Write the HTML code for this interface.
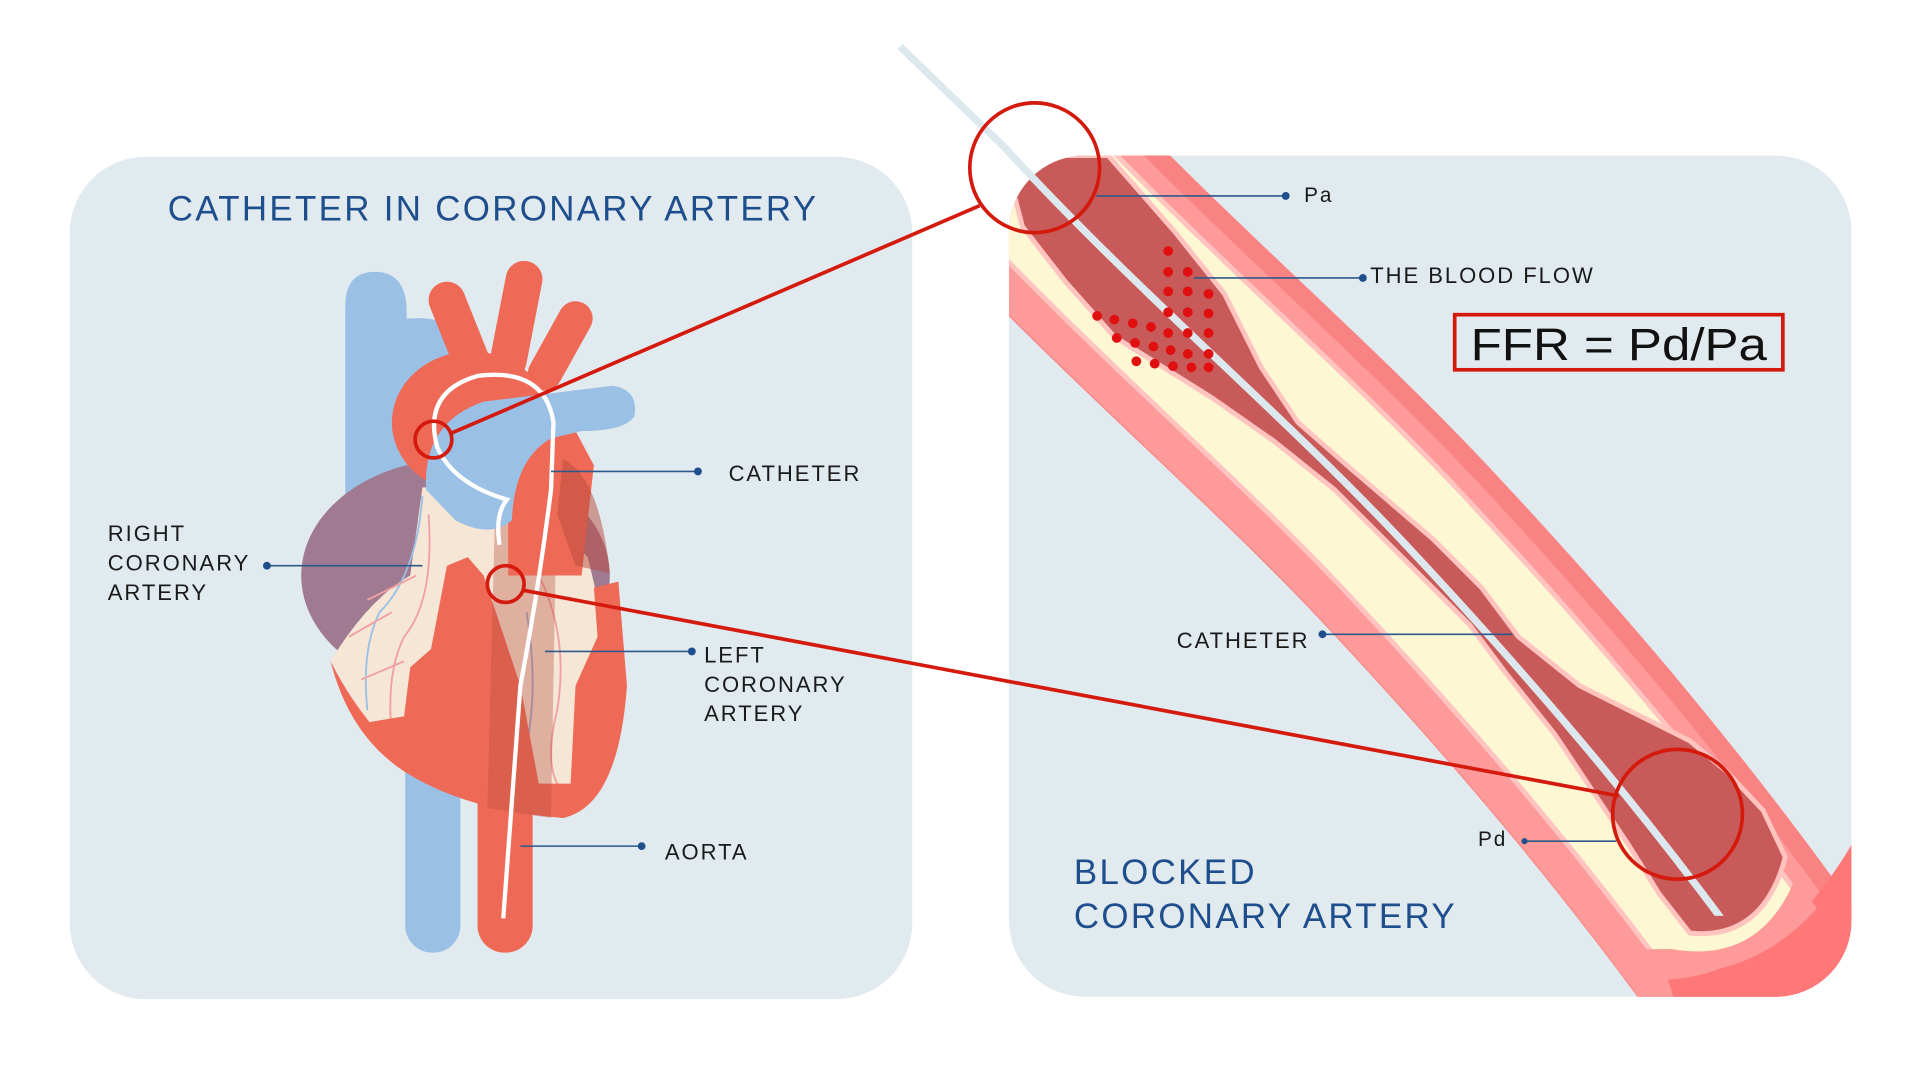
<!DOCTYPE html>
<html><head><meta charset="utf-8">
<style>
html,body{margin:0;padding:0;background:#fff;}
svg{display:block;}
text{font-family:"Liberation Sans",sans-serif;}
</style></head>
<body>
<svg width="1920" height="1080" viewBox="0 0 1568 882" preserveAspectRatio="none" xmlns="http://www.w3.org/2000/svg">
<defs>
<clipPath id="rp"><rect x="824" y="127" width="688" height="687" rx="62"/></clipPath>
<clipPath id="cc"><rect x="700" y="0" width="900" height="748"/></clipPath>
<clipPath id="endc"><path d="M700 0 L1600 0 L1600 640 L1520 690 Q1460 800 1360 795 L700 800 Z"/></clipPath>
<clipPath id="endi"><path d="M700 0 L1600 0 L1600 640 L1475 690 Q1450 790 1365 775 L700 780 Z"/></clipPath>
</defs>
<rect width="1568" height="882" fill="#fff"/>
<rect x="57" y="128" width="688" height="688" rx="62" fill="#e1eaef"/>
<rect x="824" y="127" width="688" height="687" rx="62" fill="#e1eaef"/>

<text x="137" y="180" font-size="28.5" fill="#1f4e8c" letter-spacing="1.9">CATHETER IN CORONARY ARTERY</text>

<!-- HEART -->
<rect x="331" y="560" width="45" height="218" rx="22" fill="#9ac0e6"/>
<rect x="390" y="560" width="45" height="218" rx="22" fill="#ee6a56"/>
<path d="M282 250 Q282 222 306 222 Q330 222 332 250 L334 420 L282 420 Z" fill="#9ac0e6"/>
<path d="M300 270 Q330 255 360 262 Q388 250 392 280 Q392 300 370 305 L320 320 Z" fill="#9ac0e6"/>
<ellipse cx="372" cy="470" rx="126" ry="95" fill="#a07a90"/>
<path d="M345 398 L425 398 L480 455 L505 560 L480 645 L380 650 L300 590 L270 540 Q300 490 335 470 Z" fill="#f5e6d6"/>
<g fill="none" stroke-width="1.5">
<path d="M345 405 Q340 470 310 500 Q295 530 300 580" stroke="#9ac0e6"/>
<path d="M350 420 Q355 490 330 520 Q315 550 320 600" stroke="#f0a0a0"/>
<path d="M320 500 L285 520 M330 540 L295 555 M340 470 L300 490" stroke="#f0a0a0"/>
<path d="M440 470 Q465 520 455 580 Q445 620 455 640" stroke="#f0a0a0"/>
<path d="M430 500 Q440 560 430 610" stroke="#9ab0d0"/>
</g>
<path d="M300 590 Q350 655 460 668 Q505 658 512 560 L505 475 L485 480 L488 520 L470 560 L466 640 L440 640 L425 560 L395 470 L382 455 L365 462 L352 530 L335 545 L330 585 Z" fill="#ee6a56"/>
<path d="M270 540 Q285 600 330 630 Q380 662 460 668 L470 664 Q380 655 320 610 Q290 580 270 540 Z" fill="#ee6a56"/>
<path d="M405 390 L455 390 L450 668 L398 660 Z" fill="#b84a3c" opacity="0.35"/>
<g stroke="#ee6a56" stroke-linecap="round" fill="none">
<line x1="365" y1="245" x2="385" y2="295" stroke-width="30"/>
<line x1="428" y1="228" x2="415" y2="295" stroke-width="30"/>
<line x1="470" y1="260" x2="445" y2="305" stroke-width="28"/>
</g>
<ellipse cx="385" cy="345" rx="65" ry="58" fill="#ee6a56"/>
<path d="M415 380 Q430 355 470 352 L485 380 L475 470 L415 470 Z" fill="#ee6a56"/>
<path d="M348 400 Q345 345 395 328 L500 315 Q522 318 518 340 Q510 352 475 352 L450 358 Q420 375 418 425 Q400 440 372 425 Z" fill="#9ac0e6"/>
<path d="M460 375 Q490 390 498 468 L470 462 L455 420 Z" fill="#b84a3c" opacity="0.5"/>
<path d="M408 445 Q404 420 414 408 Q370 395 357 365 Q345 320 390 307 Q445 300 452 345 L450 400 Q440 480 425 560 L411 750" fill="none" stroke="#fff" stroke-width="3.5"/>

<!-- VESSEL -->
<g clip-path="url(#rp)">
<path d="M820 120 C930 240 1050 340 1150 447 S1360 680 1470 840" fill="none" stroke="#f98282" stroke-width="186"/>
<path d="M820 120 C930 240 1050 340 1150 447 S1360 680 1470 840" fill="none" stroke="#ff9a9a" stroke-width="170" transform="translate(-6,4)"/>
<path d="M1362 800 Q1450 795 1512 690 L1530 830 L1372 830 Z" fill="#ff7878"/>
<g clip-path="url(#endc)">
<path d="M820 120 C930 240 1050 340 1150 447 S1360 680 1470 840" fill="none" stroke="#ff9a9a" stroke-width="150" transform="translate(-6,4)"/>
</g>
<g clip-path="url(#endi)">
<path d="M820 120 C930 240 1050 340 1150 447 S1360 680 1470 840" fill="none" stroke="#ffc4c0" stroke-width="128"/>
<path d="M820 120 C930 240 1050 340 1150 447 S1360 680 1470 840" fill="none" stroke="#fdf7d4" stroke-width="120"/>
</g>
<path d="M820 127 L905 127 L960 190 L1000 240 L1030 300 L1060 345 L1100 380 L1170 440 L1210 480 L1240 520 L1290 560 L1340 585 L1380 605 L1410 630 L1440 662 L1458 700 Q1440 768 1380 762 L1355 730 L1330 690 L1300 645 L1270 600 L1230 550 L1200 510 L1170 480 L1130 440 L1090 400 L1040 360 L990 325 L950 300 L910 275 L870 230 L835 185 Z" fill="#c95a5a" stroke="#ffc4c0" stroke-width="4" stroke-linejoin="round"/>
</g>
<line x1="735" y1="38" x2="820" y2="120" stroke="#dde8ee" stroke-width="6"/>
<path d="M820 120 C930 240 1050 340 1150 447 S1360 680 1470 840" fill="none" stroke="#dde8ee" stroke-width="6" clip-path="url(#cc)"/>
<g fill="#e01010">
<circle cx="954" cy="205" r="4"/><circle cx="954" cy="222" r="4"/><circle cx="954" cy="238" r="4"/><circle cx="954" cy="255" r="4"/><circle cx="954" cy="272" r="4"/>
<circle cx="970" cy="222" r="4"/><circle cx="970" cy="238" r="4"/><circle cx="970" cy="255" r="4"/><circle cx="970" cy="272" r="4"/><circle cx="970" cy="289" r="4"/>
<circle cx="987" cy="240" r="4"/><circle cx="987" cy="256" r="4"/><circle cx="987" cy="272" r="4"/><circle cx="987" cy="289" r="4"/><circle cx="987" cy="300" r="4"/>
<circle cx="896" cy="258" r="4"/><circle cx="910" cy="261" r="4"/><circle cx="925" cy="264" r="4"/><circle cx="940" cy="267" r="4"/>
<circle cx="912" cy="276" r="4"/><circle cx="927" cy="280" r="4"/><circle cx="942" cy="283" r="4"/><circle cx="956" cy="286" r="4"/>
<circle cx="928" cy="295" r="4"/><circle cx="943" cy="297" r="4"/><circle cx="958" cy="299" r="4"/><circle cx="973" cy="300" r="4"/>
</g>

<g fill="none" stroke="#d41a0d" stroke-width="3">
<line x1="368" y1="354" x2="800" y2="168"/>
<line x1="427" y1="482" x2="1322" y2="650"/>
<circle cx="354" cy="359" r="15"/>
<circle cx="413" cy="477" r="15"/>
<circle cx="845" cy="137" r="53"/>
<circle cx="1370" cy="665" r="53"/>
</g>

<g stroke="#2d5a8a" stroke-width="1.3" fill="none">
<line x1="450" y1="385" x2="570" y2="385"/>
<line x1="218" y1="462" x2="345" y2="462"/>
<line x1="445" y1="532" x2="565" y2="532"/>
<line x1="425" y1="691" x2="524" y2="691"/>
<line x1="895" y1="160" x2="1050" y2="160"/>
<line x1="975" y1="227" x2="1113" y2="227"/>
<line x1="1080" y1="518" x2="1235" y2="518"/>
<line x1="1245" y1="687" x2="1320" y2="687"/>
</g>
<g fill="#1f4e8c">
<circle cx="570" cy="385" r="3.2"/><circle cx="218" cy="462" r="3.2"/><circle cx="565" cy="532" r="3.2"/><circle cx="524" cy="691" r="3.2"/>
<circle cx="1050" cy="160" r="3.2"/><circle cx="1113" cy="227" r="3.2"/><circle cx="1080" cy="518" r="3.2"/><circle cx="1245" cy="687" r="2.5"/>
</g>
<g fill="#1a1a1a" font-size="18" letter-spacing="1.6">
<text x="595" y="393">CATHETER</text>
<text x="88" y="442">RIGHT</text>
<text x="88" y="466">CORONARY</text>
<text x="88" y="490">ARTERY</text>
<text x="575" y="541">LEFT</text>
<text x="575" y="565">CORONARY</text>
<text x="575" y="589">ARTERY</text>
<text x="543" y="702">AORTA</text>
<text x="1065" y="165" font-size="17">Pa</text>
<text x="1119" y="231">THE BLOOD FLOW</text>
<text x="961" y="529">CATHETER</text>
<text x="1207" y="691" font-size="17">Pd</text>
</g>
<g fill="#1f4e8c" font-size="28.5" letter-spacing="1.9">
<text x="877" y="722">BLOCKED</text>
<text x="877" y="758">CORONARY ARTERY</text>
</g>
<rect x="1188" y="257" width="268" height="45" fill="none" stroke="#d41a0d" stroke-width="3"/>
<text x="1201" y="294" font-size="37" fill="#111" textLength="242" lengthAdjust="spacingAndGlyphs">FFR = Pd/Pa</text>
</svg>
</body></html>
